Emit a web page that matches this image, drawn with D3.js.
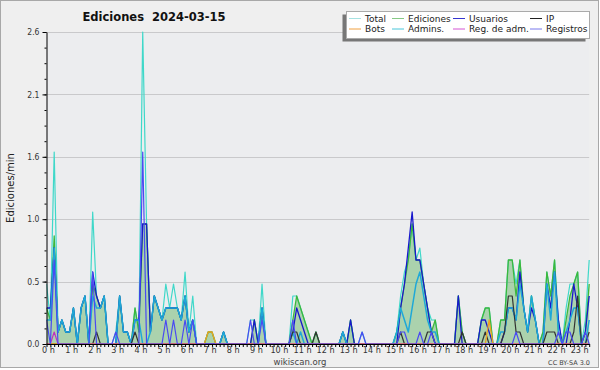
<!DOCTYPE html>
<html><head><meta charset="utf-8">
<script src="https://cdn.jsdelivr.net/npm/d3@7"></script>
<style>
body{margin:0;background:#fff}
svg{display:block}
text{font-family:"DejaVu Sans",Verdana,sans-serif}
</style>
</head><body>
<svg id="c" width="600" height="370"></svg>
<script>
// ---- data (10-minute steps, index 0 = 00:00) ----
const total = [
0.5,0.2,1.6,0.1,0.2,0.1, 0.1,0.3,0,0.3,0.4,0, 1.1,0.4,0.3,0.4,0,0, 0.1,0.4,0.1,0.1,0,0.3,
0.1,2.6,1.0,0.1,0.4,0.3, 0.2,0.5,0.3,0.5,0.3,0.2, 0.6,0.1,0.4,0,0,0, 0.1,0.1,0,0,0.1,0,
0,0,0,0,0,0.2, 0.2,0,0.5,0,0,0, 0,0,0,0,0.4,0.4, 0.3,0.2,0.1,0,0.1,0,
0,0,0,0,0,0.1, 0,0.2,0,0,0.1,0, 0,0,0,0,0,0, 0,0.1,0.4,0.6,0.7,1.0,
0.7,0.8,0.5,0.3,0.2,0.2, 0,0,0,0,0,0.4, 0.1,0,0,0,0,0.2, 0.3,0.3,0,0,0.2,0.2,
0.7,0.7,0.5,0.7,0.3,0.1, 0.4,0.2,0,0.1,0.6,0.4, 0.7,0.2,0,0.3,0.5,0.5, 0.6,0,0.2,0.7];
const ediciones = [
0.3,0.2,0.9,0.1,0.2,0.1, 0.1,0.3,0,0.3,0.4,0, 0.5,0.4,0.3,0.4,0,0, 0,0.4,0.1,0.1,0,0.3,
0.1,1.0,1.0,0.1,0.4,0.3, 0.2,0.3,0.3,0.3,0.3,0.2, 0.4,0.1,0.2,0,0,0, 0.1,0.1,0,0,0.1,0,
0,0,0,0,0,0, 0.2,0,0.3,0,0,0, 0,0,0,0,0.2,0.4, 0.3,0.2,0.1,0,0.1,0,
0,0,0,0,0,0.1, 0,0.2,0,0,0,0, 0,0,0,0,0,0, 0,0.1,0.3,0.5,0.7,1.0,
0.7,0.7,0.5,0.3,0.1,0.2, 0,0,0,0,0,0.4, 0.1,0,0,0,0,0.2, 0.3,0.3,0,0,0.2,0.2,
0.7,0.7,0.4,0.7,0.3,0.1, 0.4,0.2,0,0.1,0.6,0.4, 0.7,0.1,0,0.2,0.4,0.5, 0.6,0,0.1,0.5];
const usuarios = [
0.3,0.3,0.8,0.1,0.2,0.1, 0.1,0.3,0,0.3,0.4,0, 0.6,0.4,0.3,0.4,0,0, 0,0.4,0.1,0.1,0,0.2,
0.2,1.0,1.0,0.1,0.4,0.3, 0.2,0.3,0.3,0.3,0.3,0.2, 0.4,0.1,0.2,0,0,0, 0,0,0,0,0.1,0,
0,0,0,0,0,0, 0.2,0,0.3,0,0,0, 0,0,0,0,0.1,0.3, 0.2,0.1,0,0,0,0,
0,0,0,0,0,0.1, 0,0.2,0,0,0,0, 0,0,0,0,0,0, 0,0,0.3,0.5,0.8,1.1,
0.7,0.7,0.5,0.3,0.1,0, 0,0,0,0,0,0.4, 0,0,0,0,0,0.2, 0.2,0.1,0,0,0,0.1,
0.3,0.3,0.2,0.6,0.3,0.1, 0.3,0.2,0,0,0.5,0.3, 0.6,0.2,0,0,0.2,0.5, 0.3,0,0.1,0.4];
const ip = [
0,0,0,0,0,0, 0,0,0,0,0,0, 0,0.1,0,0,0,0, 0,0,0,0,0,0.1,
0,0,0,0,0,0, 0,0,0,0,0,0, 0,0,0,0,0,0, 0,0,0,0,0,0,
0,0,0,0,0,0, 0,0,0,0,0,0, 0,0,0,0,0.1,0.1, 0,0,0,0,0.1,0,
0,0,0,0,0,0, 0,0,0,0,0,0, 0,0,0,0,0,0, 0,0,0.1,0,0,0,
0,0,0,0.1,0.1,0, 0,0,0,0,0,0, 0.1,0,0,0,0,0, 0.1,0,0,0,0,0.1,
0.4,0.4,0.1,0.1,0,0, 0,0,0,0,0.1,0.1, 0.1,0,0,0,0,0.1, 0.4,0,0,0.1];
const bots = [
0,0,0,0,0,0, 0,0,0,0,0,0, 0,0,0,0,0,0, 0,0,0,0,0,0,
0,0,0,0,0,0, 0,0,0,0,0,0, 0,0,0,0,0,0, 0.1,0.1,0,0,0,0,
0,0,0,0,0,0, 0,0,0,0,0,0, 0,0,0,0,0,0, 0,0,0,0,0,0,
0,0,0,0,0,0, 0,0,0,0,0,0, 0,0,0,0,0,0, 0,0,0,0,0,0,
0,0,0,0,0,0, 0,0,0,0,0,0, 0,0,0,0,0,0, 0,0.2,0,0,0,0,
0,0,0,0,0,0, 0,0,0,0,0,0, 0,0,0,0,0,0, 0,0,0,0];
const admins = [
0.2,0.2,0.8,0.1,0.2,0.1, 0.1,0.3,0,0.3,0.4,0, 0.4,0.3,0.3,0.4,0,0, 0,0.4,0.1,0.1,0,0.2,
0.2,0,0,0.1,0.4,0.3, 0.2,0.3,0.3,0.3,0.3,0.2, 0.4,0.1,0.2,0,0,0, 0,0,0,0,0.1,0,
0,0,0,0,0,0, 0,0,0.3,0,0,0, 0,0,0,0,0.1,0, 0.1,0,0,0,0,0,
0,0,0,0,0,0.1, 0,0,0,0,0,0, 0,0,0,0,0,0, 0,0.1,0.3,0.2,0.1,0.3,
0.5,0.6,0.4,0.2,0.1,0.1, 0,0,0,0,0,0, 0,0,0,0,0,0, 0,0,0,0,0.1,0.1,
0.3,0.3,0.2,0.5,0.3,0.1, 0.4,0.2,0,0,0.5,0.2, 0.6,0.1,0,0.1,0.2,0.3, 0.3,0,0,0.2];
const regAdm = [
0,0,0.1,0,0,0, 0,0,0,0,0,0, 0,0,0,0,0,0, 0,0,0,0,0,0,
0,0,0,0,0,0, 0,0,0,0,0,0, 0,0,0,0,0,0, 0,0,0,0,0,0,
0,0,0,0,0,0, 0,0,0,0,0,0, 0,0,0,0,0,0, 0,0,0,0,0,0,
0,0,0,0,0,0, 0,0,0,0,0,0, 0,0,0,0,0,0, 0,0,0,0,0,0,
0,0,0,0,0,0, 0,0,0,0,0,0, 0,0,0,0,0,0, 0,0,0,0,0,0,
0,0,0,0,0,0, 0,0,0,0,0,0, 0,0,0,0,0,0, 0,0,0,0];
const registros = [
0.2,0,0.7,0,0,0, 0,0,0,0,0,0, 0.6,0,0,0,0,0, 0.1,0,0,0,0,0,
0,1.6,0,0,0,0, 0,0.2,0,0.2,0,0, 0.2,0,0.2,0,0,0, 0,0,0,0,0,0,
0,0,0,0,0,0.2, 0,0,0.2,0,0,0, 0,0,0,0,0.2,0, 0,0,0,0,0,0,
0,0,0,0,0,0, 0,0,0,0,0.1,0, 0,0,0,0,0,0, 0,0,0.1,0.1,0,0,
0,0.1,0,0,0.1,0, 0,0,0,0,0,0, 0,0,0,0,0,0, 0,0,0,0,0,0,
0,0,0.1,0,0,0, 0,0,0,0,0,0, 0,0.1,0,0.1,0.1,0, 0,0,0.1,0];

const hourLabels = ["0 h","1 h","2 h","3 h","4 h","5 h","6 h","7 h","8 h","9 h","10 h","11 h",
  "12 h","13 h","14 h","15 h","16 h","17 h","18 h","19 h","20 h","21 h","22 h","23 h"];
const yTickValues = [0, 0.52, 1.04, 1.56, 2.08, 2.6];
const yTickLabels = ["0.0","0.5","1.0","1.6","2.1","2.6"];
const legendNames = ["Total","Ediciones","Usuarios","IP","Bots","Admins.","Reg. de adm.","Registros"];
const legendColors = ["#a6e2e2","#86c986","#3535d0","#222222","#f0a040","#48c6da","#d455d4","#7878ec"];

// ---- drawing ----
const svg = d3.select("#c");
const X0 = 46.5, X1 = 589.2, Y0 = 344, Y1 = 32;
const n = total.length;
const x = d3.scaleLinear().domain([0, n - 1]).range([X0, X1]);
const y = d3.scaleLinear().domain([0, 2.6]).range([Y0, Y1]);

svg.append("rect").attr("x",0.5).attr("y",0.5).attr("width",598).attr("height",367)
  .attr("fill","#efefef").attr("stroke","#a8a8a8");
svg.append("rect").attr("x",X0).attr("y",Y1).attr("width",X1-X0).attr("height",Y0-Y1)
  .attr("fill","#ecedef");

// grid
svg.append("g").selectAll("line").data(yTickValues.slice(1)).join("line")
  .attr("x1",X0).attr("x2",X1).attr("y1",d=>Math.round(y(d))+0.5).attr("y2",d=>Math.round(y(d))+0.5)
  .attr("stroke","#c9c9cb").attr("stroke-width",1);

svg.append("defs").append("clipPath").attr("id","pc").append("rect")
  .attr("x",X0).attr("y",Y1-2).attr("width",X1-X0+1).attr("height",Y0-Y1+2);
const g = svg.append("g").attr("clip-path","url(#pc)");

const area = d3.area().x((d,i)=>x(i)).y0(y(0)).y1(d=>y(d));
const line = d3.line().x((d,i)=>x(i)).y(d=>y(d));

g.append("path").attr("d",area(ediciones)).attr("fill","rgba(80,175,80,0.42)");
function ln(data,color,w){ g.append("path").attr("d",line(data)).attr("fill","none")
  .attr("stroke",color).attr("stroke-width",w).attr("stroke-linejoin","round"); }
ln(total,"#3fd8c9",1.2);
ln(ediciones,"#3cb83c",1.3);
ln(usuarios,"#1818cc",1.3);
ln(admins,"#1ea8d8",1.5);
ln(ip,"#333333",1.2);
ln(bots,"#f0a020",1.3);
ln(regAdm,"#c030c0",1.2);
ln(registros,"#4a4af2",1.2);

// y axis
const yMinor = d3.range(0, 21).map(k => k * 0.13);
svg.append("g").attr("transform",`translate(${X0},0)`)
  .call(d3.axisLeft(y).tickValues(yMinor).tickSize(2).tickFormat("").tickSizeOuter(0))
  .call(a=>a.select(".domain").remove())
  .selectAll("line").attr("stroke","#000");
const ya = svg.append("g").attr("transform",`translate(${X0},0)`)
  .call(d3.axisLeft(y).tickValues(yTickValues).tickSize(4).tickPadding(3)
    .tickFormat((d,i)=>yTickLabels[i]).tickSizeOuter(0));
ya.select(".domain").attr("stroke","#000");
ya.selectAll("line").attr("stroke","#000");
ya.selectAll("text").attr("font-family","'DejaVu Sans Condensed','DejaVu Sans',sans-serif")
  .attr("font-stretch","condensed").attr("font-size",8.5).attr("fill","#333");

// x axis
const xa = svg.append("g").attr("transform",`translate(0,${Y0})`)
  .call(d3.axisBottom(x).tickValues(d3.range(0,n)).tickSize(3).tickFormat("").tickSizeOuter(0));
xa.select(".domain").attr("stroke","#000");
xa.selectAll("line").attr("stroke","#000");
const xl = svg.append("g").attr("transform",`translate(1.5,${Y0})`)
  .call(d3.axisBottom(x).tickValues(hourLabels.map((h,i)=>i*6)).tickSize(0).tickPadding(3)
    .tickFormat((d,i)=>hourLabels[i]));
xl.select(".domain").remove();
xl.selectAll("text").attr("font-family","'DejaVu Sans Condensed','DejaVu Sans',sans-serif")
  .attr("font-stretch","condensed").attr("font-size",9).attr("fill","#333");

// titles
svg.append("text").attr("x",154).attr("y",21).attr("text-anchor","middle")
  .attr("font-weight","bold").attr("font-size",11.5).attr("fill","#111")
  .style("white-space","pre").text("Ediciones  2024-03-15");
svg.append("text").attr("transform","translate(14,188) rotate(-90)").attr("text-anchor","middle")
  .attr("font-size",10).attr("fill","#222").text("Ediciones/min");
svg.append("text").attr("x",300).attr("y",365).attr("text-anchor","middle")
  .attr("font-size",8.5).attr("fill","#444").text("wikiscan.org");
svg.append("text").attr("x",590).attr("y",365).attr("text-anchor","end")
  .attr("font-size",6.5).attr("fill","#444").text("CC BY-SA 3.0");

// legend
const L = svg.append("g");
L.append("rect").attr("x",342.5).attr("y",14.5).attr("width",243).attr("height",27).attr("fill","#777");
L.append("rect").attr("x",346.5).attr("y",11.5).attr("width",243).attr("height",27)
  .attr("fill","#fff").attr("stroke","#aaa");
const colX = [349, 392, 453, 530];
legendNames.forEach((name,i)=>{
  const c = i % 4, r = Math.floor(i / 4);
  const ly = 18.5 + r * 10.5;
  L.append("line").attr("x1",colX[c]).attr("x2",colX[c]+12).attr("y1",ly).attr("y2",ly)
    .attr("stroke",legendColors[i]).attr("stroke-width",1);
  L.append("text").attr("x",colX[c]+16).attr("y",ly+3.3).attr("font-size",9).attr("fill","#222").text(name);
});
</script>
</body></html>
